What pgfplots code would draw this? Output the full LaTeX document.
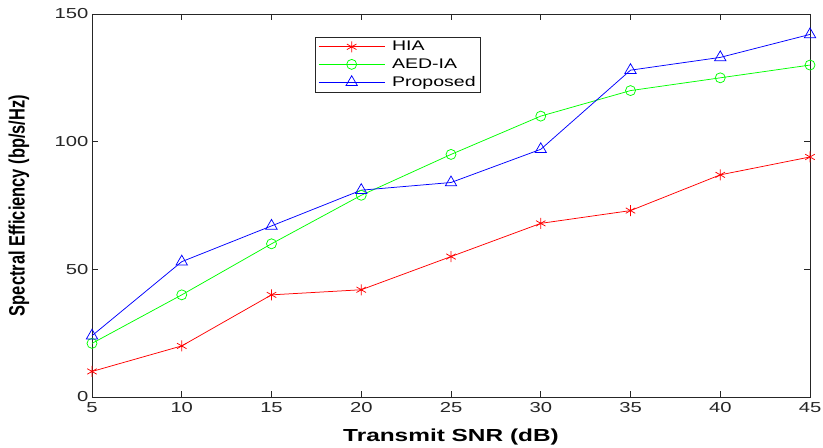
\documentclass[border=0pt]{standalone}
\usepackage{fontspec}
\usepackage{graphicx}
\setmainfont{Liberation Sans}[FakeStretch=1.4]
\newfontfamily\yfont{Liberation Sans}
\usepackage{pgfplots}
\pgfplotsset{compat=1.18}
\definecolor{axgray}{RGB}{38,38,38}
\begin{document}
\begin{tikzpicture}[x=1bp,y=1bp]
\path[use as bounding box] (-92,-51) rectangle (731,397);
\begin{axis}[
  at={(0,0)}, anchor=south west,
  scale only axis, width=718bp, height=383bp,
  xmin=5, xmax=45, ymin=0, ymax=150,
  xtick={5,10,...,45}, ytick={0,50,100,150},
  tick align=inside, major tick length=6bp,
  axis line style={axgray, line width=0.6bp},
  every tick/.style={axgray, line width=0.6bp},
  /pgf/number format/assume math mode=true,
  tick label style={font=\fontsize{14.5}{16}\selectfont, text=axgray},
  xticklabel style={yshift=-2bp},
  xlabel={\bfseries\fontsize{17.5}{20}\selectfont Transmit SNR (dB)},
  ylabel={\yfont\bfseries\fontsize{16.5}{18}\selectfont\scalebox{1}[1.35]{Spectral Efficiency (bp/s/Hz)}},
  every axis x label/.style={at={([yshift=-40bp]axis description cs:0.5,0)}, anchor=center},
  every axis y label/.style={at={([xshift=-73bp]axis description cs:0,0.5)}, rotate=90, anchor=center},
  legend style={at={(axis description cs:0.3106,0.94)}, anchor=north west,
    draw=axgray, line width=0.6bp, font=\fontsize{14}{15}\selectfont,
    row sep=2.5bp, inner xsep=3bp, inner ysep=2bp, cells={anchor=west}},
  legend image code/.code={\draw[mark repeat=2,mark phase=2] plot coordinates {(2bp,0bp)(35bp,0bp)(68bp,0bp)}; \path (73bp,0bp);},
  every mark/.append style={xscale=1.35},
]
\addplot[red, line width=0.75bp, mark=asterisk, mark size=5.5bp] coordinates {
(5,10)(10,20)(15,40)(20,42)(25,55)(30,68)(35,73)(40,87)(45,94)};
\addlegendentry{HIA}
\addplot[green, line width=0.75bp, mark=o, mark size=5bp] coordinates {
(5,21)(10,40)(15,60)(20,79)(25,95)(30,110)(35,120)(40,125)(45,130)};
\addlegendentry{AED-IA}
\addplot[blue, line width=0.75bp, mark=triangle, mark size=6.5bp] coordinates {
(5,24)(10,53)(15,67)(20,81)(25,84)(30,97)(35,128)(40,133)(45,142)};
\addlegendentry{Proposed}
\end{axis}
\end{tikzpicture}
\end{document}
